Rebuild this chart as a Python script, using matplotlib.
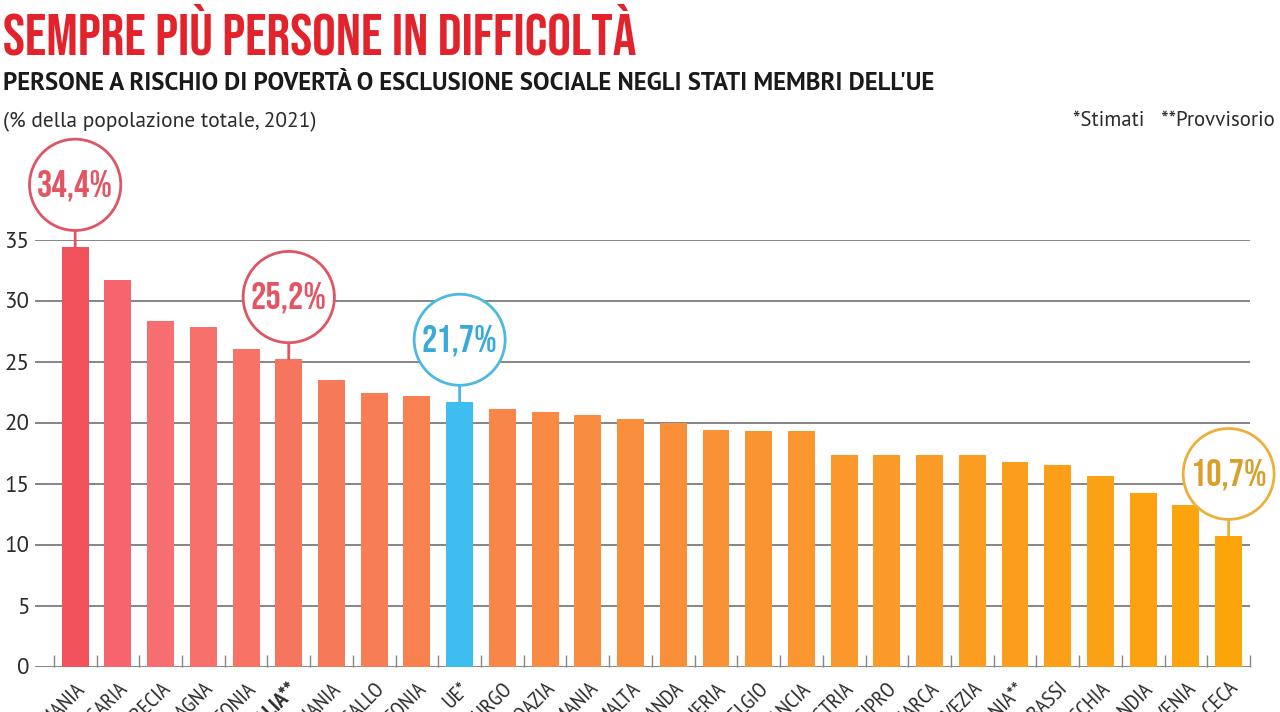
import numpy as np
import matplotlib.pyplot as plt
from matplotlib.colors import LinearSegmentedColormap

#########################################
################ Dati ###################
#########################################
paesi = ['ROMANIA', 'BULGARIA', 'GRECIA', 'SPAGNA', 'LETTONIA', 'ITALIA**', 'LITUANIA',
         'PORTOGALLO', 'ESTONIA', 'UE*', 'LUSSEMBURGO', 'CROAZIA', 'GERMANIA', 'MALTA',
         'IRLANDA', 'UNGHERIA', 'BELGIO', 'FRANCIA', 'AUSTRIA', 'CIPRO', 'DANIMARCA',
         'SVEZIA', 'POLONIA**', 'PAESI BASSI', 'SLOVACCHIA', 'FINLANDIA', 'SLOVENIA',
         'REPUBBLICA CECA']
valori = [34.4, 31.7, 28.3, 27.8, 26.0, 25.2, 23.5, 22.4, 22.2, 21.7, 21.1, 20.9, 20.6,
          20.3, 20.0, 19.4, 19.3, 19.3, 17.3, 17.3, 17.3, 17.3, 16.8, 16.5, 15.6, 14.2,
          13.2, 10.7]
evidenziati = ['ROMANIA', 'ITALIA**', 'UE*', 'REPUBBLICA CECA']
yticks = [0, 5, 10, 15, 20, 25, 30, 35]

titolo = 'SEMPRE PIÙ PERSONE IN DIFFICOLTÀ'
sottotitolo = "PERSONE A RISCHIO DI POVERTÀ O ESCLUSIONE SOCIALE NEGLI STATI MEMBRI DELL'UE"
unita = '(% della popolazione totale, 2021)'
note = '*Stimati   **Provvisorio'

#########################################
################ Stile ##################
#########################################
plt.rcParams['font.family'] = ['PT Sans Narrow', 'Liberation Sans', 'DejaVu Sans']
font_titolo = ['Bebas Neue', 'PT Sans Narrow', 'DejaVu Sans']
font_testo = ['PT Sans', 'Liberation Sans', 'DejaVu Sans']
grigio = '#858585'
testo = '#2b2b2b'
blu = '#3dbdf0'
# gradiente rosso -> arancio per i paesi
cmap = LinearSegmentedColormap.from_list('rosso_arancio',
        [(0.0, '#f2525b'), (0.05, '#f76c74'), (0.2, '#f6765e'), (0.38, '#f88a44'),
         (0.7, '#fa9a28'), (1.0, '#fca50a')])

x = np.arange(len(paesi))
n_paesi = len(paesi) - 1
colori = []
k = 0
for p in paesi:
    if p == 'UE*':
        colori.append(blu)
    else:
        colori.append(cmap(k / (n_paesi - 1)))
        k += 1

#########################################
################ Grafico ################
#########################################
fig = plt.figure(figsize=(12.8, 7.12), dpi=100)
ax = fig.add_axes([35/1280, 45.5/712, 1215/1280, 427/712])

ax.bar(x, valori, width=0.63, color=colori, zorder=3)
ax.set_xlim(-0.94, 27.5)
ax.set_ylim(0, 35)

# griglia orizzontale
for t in yticks:
    ax.axhline(t, color=grigio, lw=1.4, zorder=1)
ax.set_yticks(yticks)
ax.tick_params(axis='y', length=0, pad=4, labelsize=16.5, labelcolor=testo)
for lab in ax.get_yticklabels():
    lab.set_family(font_testo)
for s in ax.spines.values():
    s.set_visible(False)

# etichette paesi ruotate, tacche tra le barre
ax.set_xticks(x)
ax.set_xticklabels(paesi, rotation=45, ha='right', rotation_mode='anchor')
ax.tick_params(axis='x', which='major', length=0, pad=9, labelsize=16, labelcolor=testo)
ax.set_xticks(np.arange(-0.5, len(paesi), 1), minor=True)
ax.tick_params(axis='x', which='minor', length=9, direction='in', color=grigio, width=1)
for lab in ax.get_xticklabels():
    if lab.get_text() == 'ITALIA**':
        lab.set_fontweight('bold')

# cerchi con i valori evidenziati
for p in evidenziati:
    i = paesi.index(p)
    if p == 'UE*':
        col_c, col_t = '#4cb9e2', '#38a9d9'
    elif i == len(paesi) - 1:
        col_c, col_t = '#ebb03c', '#d99f2a'
    else:
        col_c, col_t = '#de5564', '#e45563'
    etichetta = ('%.1f' % valori[i]).replace('.', ',') + '%'
    ax.annotate(etichetta, xy=(i, valori[i]), xytext=(0, 62), textcoords='offset pixels',
                ha='center', va='center', fontsize=27.5, color=col_t, zorder=5,
                family=font_titolo, annotation_clip=False,
                bbox=dict(boxstyle='circle,pad=0.2', fc='white', ec=col_c, lw=2),
                arrowprops=dict(arrowstyle='-', color=col_c, lw=2, shrinkA=0, shrinkB=0))

# titoli
fig.text(3/1280, 1 - 29/712, titolo, fontsize=42.5, color='#e3232b', family=font_titolo,
         ha='left', va='center')
fig.text(3/1280, 1 - 84/712, sottotitolo, fontsize=17.8, fontweight='bold', color='#1a1a1a',
         family=font_testo, ha='left', va='center')
fig.text(3/1280, 1 - 122/712, unita, fontsize=15.5, color=testo, family=font_testo,
         ha='left', va='center')
fig.text(1275/1280, 1 - 121/712, note, fontsize=15, color=testo, family=font_testo,
         ha='right', va='center')

fig.savefig('out.png', dpi=100)
